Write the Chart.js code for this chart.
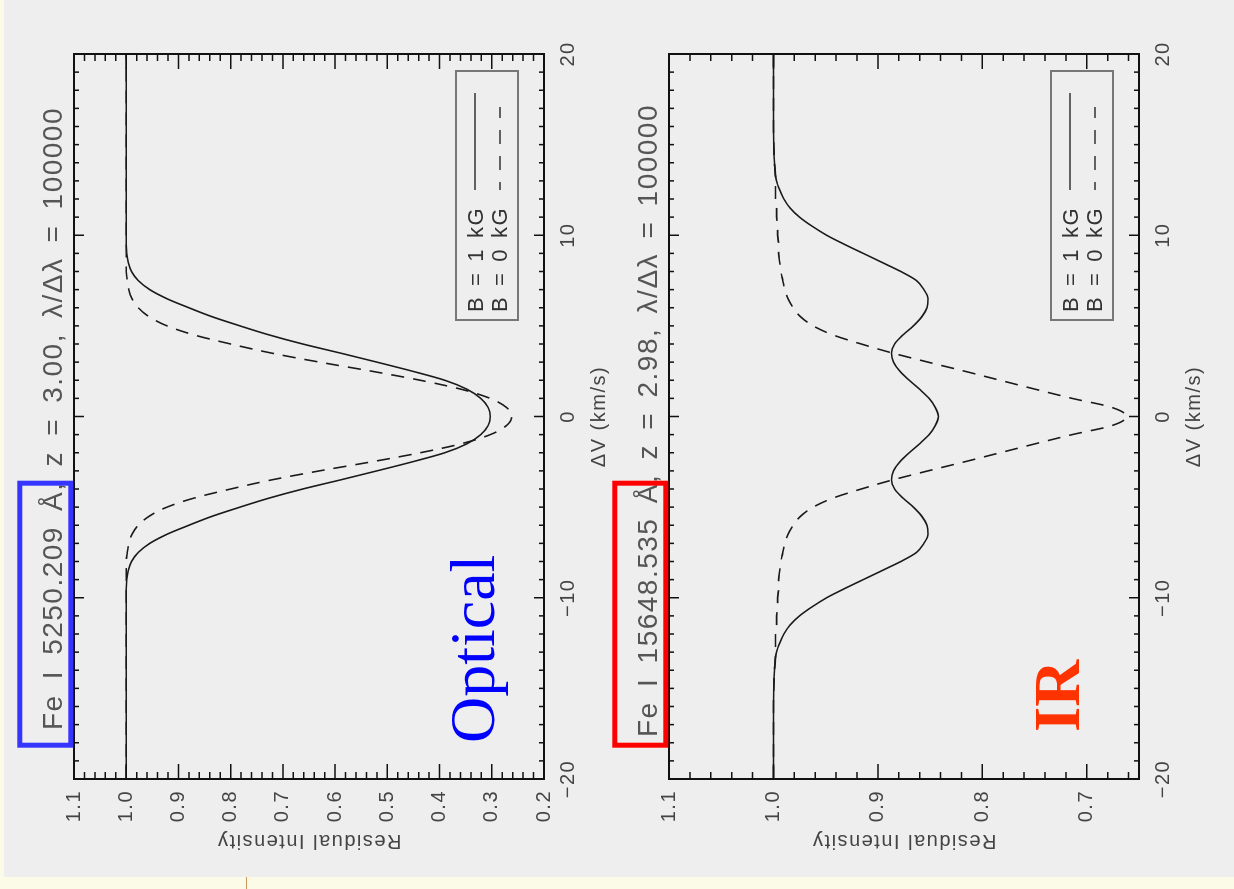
<!DOCTYPE html>
<html>
<head>
<meta charset="utf-8">
<title>Fe I line profiles</title>
<script src="https://cdn.jsdelivr.net/npm/chart.js@4.4.1/dist/chart.umd.min.js"></script>
<style>
    html, body { margin: 0; padding: 0; }
    body { width: 1234px; height: 889px; overflow: hidden; position: relative; background: #fbfbe7; }
    /* the slide is rotated a quarter turn to the left */
    #page { position: absolute; left: 0; top: 0; width: 889px; height: 1234px;
            transform-origin: 0 0; transform: translateY(889px) rotate(-90deg); }
    #bg { position: absolute; left: 12px; top: 4px; width: 877px; height: 1230px; background: #eeeeee; }
    #mark { position: absolute; left: 0; top: 246px; width: 12px; height: 1px; background: #c8955a; }
    canvas { position: absolute; left: 0; }
    #optCanvas { top: 0; }
    #irCanvas { top: 595px; }
</style>
</head>
<body>
<div id="page">
    <div id="bg"></div>
    <div id="mark"></div>
    <canvas id="optCanvas" width="889" height="625"></canvas>
    <canvas id="irCanvas" width="889" height="625"></canvas>
</div>
<script>
// ΔV grid (km/s)
const velocity = [-20, -16, -14, -13, -12.5, -12, -11.5, -11, -10.5, -10, -9.5, -9, -8.5, -8, -7.5, -7, -6.5, -6, -5.5, -5,
    -4.5, -4, -3.5, -3, -2.5, -2, -1.5, -1, -0.5, 0, 0.5, 1, 1.5, 2, 2.5, 3, 3.5, 4, 4.5, 5,
    5.5, 6, 6.5, 7, 7.5, 8, 8.5, 9, 9.5, 10, 10.5, 11, 11.5, 12, 12.5, 13, 14, 16, 20];

// Fe I 5250.209 Å
const optical1kG = [1.000, 1.000, 1.000, 1.000, 1.000, 1.000, 1.000, 1.000, 1.000, 1.000, 1.000, 0.999, 0.996, 0.990, 0.977, 0.955, 0.922, 0.880, 0.835, 0.782,
    0.726, 0.662, 0.590, 0.520, 0.452, 0.390, 0.347, 0.321, 0.307, 0.303, 0.307, 0.321, 0.347, 0.390, 0.452, 0.520, 0.590, 0.662, 0.726, 0.782,
    0.835, 0.880, 0.922, 0.955, 0.977, 0.990, 0.996, 0.999, 1.000, 1.000, 1.000, 1.000, 1.000, 1.000, 1.000, 1.000, 1.000, 1.000, 1.000];
const optical0kG = [1.000, 1.000, 1.000, 1.000, 1.000, 1.000, 1.000, 1.000, 1.000, 1.000, 1.000, 1.000, 1.000, 1.000, 0.998, 0.995, 0.989, 0.977, 0.956, 0.922,
    0.870, 0.800, 0.722, 0.630, 0.530, 0.437, 0.358, 0.303, 0.272, 0.262, 0.272, 0.303, 0.358, 0.437, 0.530, 0.630, 0.722, 0.800, 0.870, 0.922,
    0.956, 0.977, 0.989, 0.995, 0.998, 1.000, 1.000, 1.000, 1.000, 1.000, 1.000, 1.000, 1.000, 1.000, 1.000, 1.000, 1.000, 1.000, 1.000];

// Fe I 15648.535 Å
const ir1kG = [1.000, 1.000, 0.999, 0.997, 0.994, 0.990, 0.984, 0.975, 0.963, 0.949, 0.932, 0.914, 0.896, 0.878, 0.863, 0.856, 0.852, 0.853, 0.858, 0.866,
    0.876, 0.884, 0.887, 0.885, 0.879, 0.870, 0.860, 0.851, 0.845, 0.842, 0.845, 0.851, 0.860, 0.870, 0.879, 0.885, 0.887, 0.884, 0.876, 0.866,
    0.858, 0.853, 0.852, 0.856, 0.863, 0.878, 0.896, 0.914, 0.932, 0.949, 0.963, 0.975, 0.984, 0.990, 0.994, 0.997, 0.999, 1.000, 1.000];
const ir0kG = [1.000, 1.000, 0.999, 0.998, 0.998, 0.998, 0.997, 0.997, 0.996, 0.996, 0.995, 0.995, 0.994, 0.993, 0.991, 0.989, 0.986, 0.981, 0.974, 0.962,
    0.943, 0.916, 0.886, 0.852, 0.817, 0.783, 0.749, 0.714, 0.676, 0.662, 0.676, 0.714, 0.749, 0.783, 0.817, 0.852, 0.886, 0.916, 0.943, 0.962,
    0.974, 0.981, 0.986, 0.989, 0.991, 0.993, 0.994, 0.995, 0.995, 0.996, 0.996, 0.997, 0.997, 0.998, 0.998, 0.998, 0.999, 1.000, 1.000];

const velocityTicks = [-20, -10, 0, 10, 20];
const opticalTicks = [0.2, 0.3, 0.4, 0.5, 0.6, 0.7, 0.8, 0.9, 1.0, 1.1];
const irTicks = [0.7, 0.8, 0.9, 1.0, 1.1];
const legendLabels = ["B = 1 kG", "B = 0 kG"];

const LABEL_FONT = { family: "'Liberation Sans', Arial, sans-serif", size: 20 };
const INK = "#444";

// draw a string stretched to a given width with letter and word spacing
function fitText(ctx, text, x, y, width, letter) {
    ctx.letterSpacing = letter + "px";
    ctx.wordSpacing = "0px";
    const w0 = ctx.measureText(text).width;
    const spaces = text.split(" ").length - 1;
    if (spaces > 0) ctx.wordSpacing = Math.max(0, (width - w0) / spaces) + "px";
    ctx.fillText(text, x, y);
    ctx.letterSpacing = "0px";
    ctx.wordSpacing = "0px";
}

function panelPlugin(cfg) {
    return {
        id: "panel",
        beforeDraw(chart) {
            chart.ctx.letterSpacing = "1.5px";
        },
        afterDraw(chart) {
            const { ctx, chartArea: a, scales: { x, y } } = chart;
            ctx.save();
            ctx.letterSpacing = "0px";

            // inward ticks on all four sides
            ctx.strokeStyle = "#111";
            ctx.lineWidth = 1.5;
            ctx.beginPath();
            for (let v = -20; v <= 20; v++) {
                const px = x.getPixelForValue(v);
                const len = v % 10 === 0 ? 10 : 5;
                ctx.moveTo(px, a.bottom); ctx.lineTo(px, a.bottom - len);
                ctx.moveTo(px, a.top); ctx.lineTo(px, a.top + len);
            }
            const k0 = Math.ceil(y.min * 50 - 1e-6), k1 = Math.floor(y.max * 50 + 1e-6);
            for (let k = k0; k <= k1; k++) {
                const py = y.getPixelForValue(k / 50);
                const len = k % 5 === 0 ? 15 : 7;
                ctx.moveTo(a.left, py); ctx.lineTo(a.left + len, py);
                ctx.moveTo(a.right, py); ctx.lineTo(a.right - len, py);
            }
            ctx.stroke();

            // frame
            ctx.lineWidth = 2;
            ctx.strokeRect(a.left, a.top, a.right - a.left, a.bottom - a.top);

            // legend
            ctx.strokeStyle = "#777";
            ctx.lineWidth = 2;
            ctx.strokeRect(a.right - 266, a.top + 382, 249, 62);
            ctx.fillStyle = "#333";
            ctx.font = "22px 'Liberation Sans', Arial, sans-serif";
            ctx.textBaseline = "alphabetic";
            ctx.textAlign = "left";
            fitText(ctx, legendLabels[0], a.right - 258, a.top + 409, 105, 1.5);
            fitText(ctx, legendLabels[1], a.right - 258, a.top + 433, 105, 1.5);
            ctx.strokeStyle = "#333";
            ctx.lineWidth = 1.6;
            ctx.beginPath();
            ctx.moveTo(a.right - 136, a.top + 401); ctx.lineTo(a.right - 39, a.top + 401);
            ctx.stroke();
            ctx.setLineDash([14, 12]);
            ctx.lineDashOffset = 6;
            ctx.beginPath();
            ctx.moveTo(a.right - 136, a.top + 426); ctx.lineTo(a.right - 53, a.top + 426);
            ctx.stroke();
            ctx.setLineDash([]);

            // plot title
            ctx.fillStyle = "#555";
            ctx.font = "28px 'Liberation Sans', Arial, sans-serif";
            fitText(ctx, cfg.title, cfg.titleX, 62, cfg.titleW, 1.5);

            // coloured box round the line name
            ctx.strokeStyle = cfg.boxColor;
            ctx.lineWidth = 5;
            ctx.strokeRect(143.8, 19.8, 262, 51);

            // big label
            ctx.fillStyle = cfg.tagColor;
            ctx.font = cfg.tagFont;
            ctx.fillText(cfg.tag, cfg.tagX, cfg.tagY);
            ctx.restore();
        }
    };
}

function makePanel(canvasId, solid, dashed, yMin, yTicks, cfg) {
    const points = arr => velocity.map((v, i) => ({ x: v, y: arr[i] }));
    return new Chart(document.getElementById(canvasId), {
        type: "scatter",
        data: {
            datasets: [
                { label: legendLabels[0], data: points(solid), showLine: true, pointRadius: 0,
                  borderColor: "#1a1a1a", borderWidth: 1.6, cubicInterpolationMode: "monotone" },
                { label: legendLabels[1], data: points(dashed), showLine: true, pointRadius: 0,
                  borderColor: "#1a1a1a", borderWidth: 1.6, borderDash: [13, 9], cubicInterpolationMode: "monotone" }
            ]
        },
        options: {
            responsive: false,
            animation: false,
            devicePixelRatio: 1,
            layout: { padding: { top: 74, right: 54, bottom: 0, left: 0 } },
            plugins: { legend: { display: false }, tooltip: { enabled: false } },
            scales: {
                x: {
                    type: "linear", min: -20, max: 20, bounds: "data",
                    afterFit: s => { s.height = 81; },
                    afterBuildTicks: s => { s.ticks = velocityTicks.map(v => ({ value: v })); },
                    grid: { display: false, drawTicks: false },
                    border: { display: false },
                    ticks: { color: INK, font: LABEL_FONT, padding: 12, maxRotation: 0, autoSkip: false,
                             callback: v => v < 0 ? "\u2212" + Math.abs(v) : String(v) },
                    title: { display: true, text: "ΔV (km/s)", color: INK, font: LABEL_FONT, padding: { top: 0, bottom: 14 } }
                },
                y: {
                    type: "linear", min: yMin, max: 1.1, bounds: "data",
                    afterFit: s => { s.width = 110; },
                    afterBuildTicks: s => { s.ticks = yTicks.map(v => ({ value: v })); },
                    grid: { display: false, drawTicks: false },
                    border: { display: false },
                    ticks: { color: INK, font: LABEL_FONT, padding: 11, autoSkip: false, callback: v => v.toFixed(1) },
                    title: { display: true, text: "Residual Intensity", color: INK, font: LABEL_FONT, padding: { top: 36, bottom: 0 } }
                }
            }
        },
        plugins: [panelPlugin(cfg)]
    });
}

makePanel("optCanvas", optical1kG, optical0kG, 0.2, opticalTicks, {
    title: "Fe I 5250.209 Å, z = 3.00, λ/Δλ = 100000", titleX: 159, titleW: 623,
    boxColor: "#3535ff",
    tag: "Optical", tagColor: "#0000ff", tagFont: "64px 'Liberation Serif', 'Times New Roman', serif", tagX: 146, tagY: 494
});
makePanel("irCanvas", ir1kG, ir0kG, 0.65, irTicks, {
    title: "Fe I 15648.535 Å, z = 2.98, λ/Δλ = 100000", titleX: 152, titleW: 633,
    boxColor: "#ff0000",
    tag: "IR", tagColor: "#ff3300", tagFont: "bold 65px 'Liberation Serif', 'Times New Roman', serif", tagX: 157, tagY: 484
});
</script>
</body>
</html>
